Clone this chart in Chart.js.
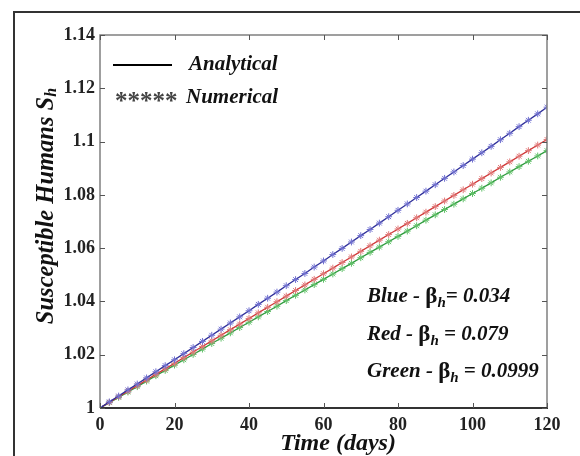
<!DOCTYPE html>
<html>
<head>
<meta charset="utf-8">
<script src="https://cdn.jsdelivr.net/npm/chart.js@4.4.1/dist/chart.umd.min.js"></script>
<style>
    html, body { margin: 0; padding: 0; background: #fff; overflow: hidden; }
    #wrap { position: relative; width: 580px; height: 456px; }
    #frame { position: absolute; left: 13px; top: 11px; width: 620px; height: 520px; border: 2px solid #333; box-sizing: border-box; }
    canvas { position: absolute; left: 0; top: 0; }
</style>
</head>
<body>
<div id="wrap">
    <div id="frame"></div>
    <canvas id="chart" width="580" height="456"></canvas>
</div>
<script>
// time points (days)
const days = [0, 2.5, 5, 7.5, 10, 12.5, 15, 17.5, 20, 22.5, 25, 27.5, 30, 32.5, 35, 37.5, 40, 42.5, 45, 47.5,
    50, 52.5, 55, 57.5, 60, 62.5, 65, 67.5, 70, 72.5, 75, 77.5, 80, 82.5, 85, 87.5, 90, 92.5, 95, 97.5,
    100, 102.5, 105, 107.5, 110, 112.5, 115, 117.5, 120]

// Blue - beta_h = 0.034
const blueSh = [1.0000, 1.0023, 1.0045, 1.0068, 1.0090, 1.0113, 1.0136, 1.0159, 1.0181, 1.0204, 1.0227, 1.0250,
    1.0273, 1.0296, 1.0319, 1.0342, 1.0365, 1.0389, 1.0412, 1.0435, 1.0459, 1.0482, 1.0505, 1.0529, 1.0552,
    1.0576, 1.0599, 1.0623, 1.0647, 1.0670, 1.0694, 1.0718, 1.0742, 1.0766, 1.0790, 1.0814, 1.0838, 1.0862,
    1.0886, 1.0910, 1.0934, 1.0958, 1.0982, 1.1007, 1.1031, 1.1056, 1.1080, 1.1104, 1.1129]

// Red - beta_h = 0.079
const redSh = [1.0000, 1.0021, 1.0042, 1.0063, 1.0084, 1.0105, 1.0126, 1.0147, 1.0168, 1.0189, 1.0210, 1.0231,
    1.0252, 1.0273, 1.0294, 1.0315, 1.0336, 1.0357, 1.0378, 1.0399, 1.0420, 1.0441, 1.0462, 1.0483, 1.0504,
    1.0525, 1.0546, 1.0567, 1.0588, 1.0609, 1.0630, 1.0651, 1.0672, 1.0693, 1.0714, 1.0735, 1.0756, 1.0777,
    1.0798, 1.0819, 1.0840, 1.0861, 1.0882, 1.0903, 1.0924, 1.0945, 1.0966, 1.0987, 1.1008]

// Green - beta_h = 0.0999
const greenSh = [1.0000, 1.0020, 1.0040, 1.0060, 1.0080, 1.0101, 1.0121, 1.0141, 1.0161, 1.0181, 1.0201, 1.0221,
    1.0242, 1.0262, 1.0282, 1.0302, 1.0322, 1.0342, 1.0362, 1.0382, 1.0403, 1.0423, 1.0443, 1.0463, 1.0483,
    1.0503, 1.0523, 1.0543, 1.0564, 1.0584, 1.0604, 1.0624, 1.0644, 1.0664, 1.0684, 1.0705, 1.0725, 1.0745,
    1.0765, 1.0785, 1.0805, 1.0825, 1.0845, 1.0866, 1.0886, 1.0906, 1.0926, 1.0946, 1.0966]

const xTicks = [0, 20, 40, 60, 80, 100, 120]
const yTicks = [1, 1.02, 1.04, 1.06, 1.08, 1.1, 1.12, 1.14]

const serif = '"Liberation Serif", "Times New Roman", serif'

function toPoints(values) {
    return values.map((v, i) => ({ x: days[i], y: v }))
}

function series(values, lineColor, markColor) {
    return {
        data: toPoints(values),
        borderColor: lineColor,
        borderWidth: 1.3,
        pointStyle: "star",
        pointRadius: 3.4,
        pointBorderWidth: 1,
        pointBorderColor: markColor,
        pointBackgroundColor: markColor,
        tension: 0
    }
}

// draw a run of text pieces (font / vertical shift) one after the other
function drawRich(ctx, parts, x, y) {
    let cx = x
    parts.forEach(p => {
        ctx.font = p.font
        ctx.fillText(p.text, cx, y + (p.dy || 0))
        cx += ctx.measureText(p.text).width
    })
    return cx - x
}

function richWidth(ctx, parts) {
    let w = 0
    parts.forEach(p => {
        ctx.font = p.font
        w += ctx.measureText(p.text).width
    })
    return w
}

const framePlugin = {
    id: "frame",
    afterDraw(chart) {
        const { ctx, chartArea: a, scales: { x, y } } = chart
        ctx.save()

        // box around the plot
        ctx.strokeStyle = "#808080"
        ctx.lineWidth = 1.5
        ctx.beginPath()
        ctx.moveTo(a.left, a.bottom)
        ctx.lineTo(a.left, a.top)
        ctx.lineTo(a.right, a.top)
        ctx.lineTo(a.right, a.bottom)
        ctx.stroke()
        ctx.strokeStyle = "#333"
        ctx.lineWidth = 2
        ctx.beginPath()
        ctx.moveTo(a.left, a.bottom)
        ctx.lineTo(a.right + 1, a.bottom)
        ctx.stroke()

        // inward ticks, matlab style
        ctx.strokeStyle = "#555"
        ctx.lineWidth = 1
        const len = 5
        ctx.beginPath()
        x.ticks.forEach(t => {
            const px = Math.round(x.getPixelForValue(t.value)) + 0.5
            ctx.moveTo(px, a.bottom); ctx.lineTo(px, a.bottom - len)
            ctx.moveTo(px, a.top); ctx.lineTo(px, a.top + len)
        })
        y.ticks.forEach(t => {
            const py = Math.round(y.getPixelForValue(t.value)) + 0.5
            ctx.moveTo(a.left, py); ctx.lineTo(a.left + len, py)
            ctx.moveTo(a.right, py); ctx.lineTo(a.right - len, py)
        })
        ctx.stroke()

        ctx.fillStyle = "#111"
        ctx.textBaseline = "middle"
        ctx.textAlign = "left"

        // legend
        const legFont = "italic bold 21px " + serif
        ctx.strokeStyle = "#000"
        ctx.lineWidth = 2
        ctx.beginPath()
        ctx.moveTo(113, 65); ctx.lineTo(172, 65)
        ctx.stroke()
        ctx.font = legFont
        ctx.fillText("Analytical", 189, 65)
        ctx.fillText("Numerical", 186, 98)
        ctx.font = "bold 25px " + serif
        ctx.fillStyle = "#444"
        ctx.textBaseline = "alphabetic"
        ctx.fillText("*****", 115, 109)
        ctx.fillStyle = "#111"
        ctx.textBaseline = "middle"

        // parameter notes
        const f = "italic bold 21px " + serif
        const fb = "bold 23px " + serif
        const fs = "italic bold 15px " + serif
        const notes = [
            ["Blue - ", "= 0.034", 297],
            ["Red - ", " = 0.079", 335],
            ["Green - ", " = 0.0999", 372]
        ]
        notes.forEach(n => {
            drawRich(ctx, [
                { text: n[0], font: f },
                { text: "\u03b2", font: fb },
                { text: "h", font: fs, dy: 6 },
                { text: n[1], font: f }
            ], 367, n[2])
        })

        // axis titles
        ctx.textAlign = "center"
        ctx.font = "italic bold 24px " + serif
        ctx.fillText("Time (days)", 338, 444)

        const yParts = [
            { text: "Susceptible Humans S", font: "italic bold 24.5px " + serif },
            { text: "h", font: "italic bold 16px " + serif, dy: 5 }
        ]
        ctx.translate(47, 206)
        ctx.rotate(-Math.PI / 2)
        ctx.textAlign = "left"
        const w = richWidth(ctx, yParts)
        drawRich(ctx, yParts, -w / 2, 0)

        ctx.restore()
    }
}

new Chart(document.getElementById("chart"), {
    type: "line",
    data: {
        datasets: [
            series(blueSh, "#2e2e98", "#7070d0"),
            series(redSh, "#d03838", "#e07878"),
            series(greenSh, "#2c9a3c", "#60c068")
        ]
    },
    options: {
        responsive: false,
        animation: false,
        layout: { padding: { left: 0, top: 35, right: 33, bottom: 0 } },
        plugins: { legend: { display: false }, tooltip: { enabled: false } },
        scales: {
            x: {
                type: "linear",
                min: 0,
                max: 120,
                afterBuildTicks: s => { s.ticks = xTicks.map(v => ({ value: v })) },
                afterFit: s => { s.height = 48 },
                grid: { display: false, drawTicks: false },
                border: { display: false },
                ticks: {
                    color: "#222",
                    padding: 7,
                    font: { family: serif, weight: "bold", size: 18 },
                    callback: v => String(v)
                }
            },
            y: {
                type: "linear",
                min: 1,
                max: 1.14,
                afterBuildTicks: s => { s.ticks = yTicks.map(v => ({ value: v })) },
                afterFit: s => { s.width = 100 },
                grid: { display: false, drawTicks: false },
                border: { display: false },
                ticks: {
                    color: "#222",
                    padding: 5,
                    font: { family: serif, weight: "bold", size: 18 },
                    callback: v => String(Number(v.toFixed(2)))
                }
            }
        }
    },
    plugins: [framePlugin]
})
</script>
</body>
</html>
